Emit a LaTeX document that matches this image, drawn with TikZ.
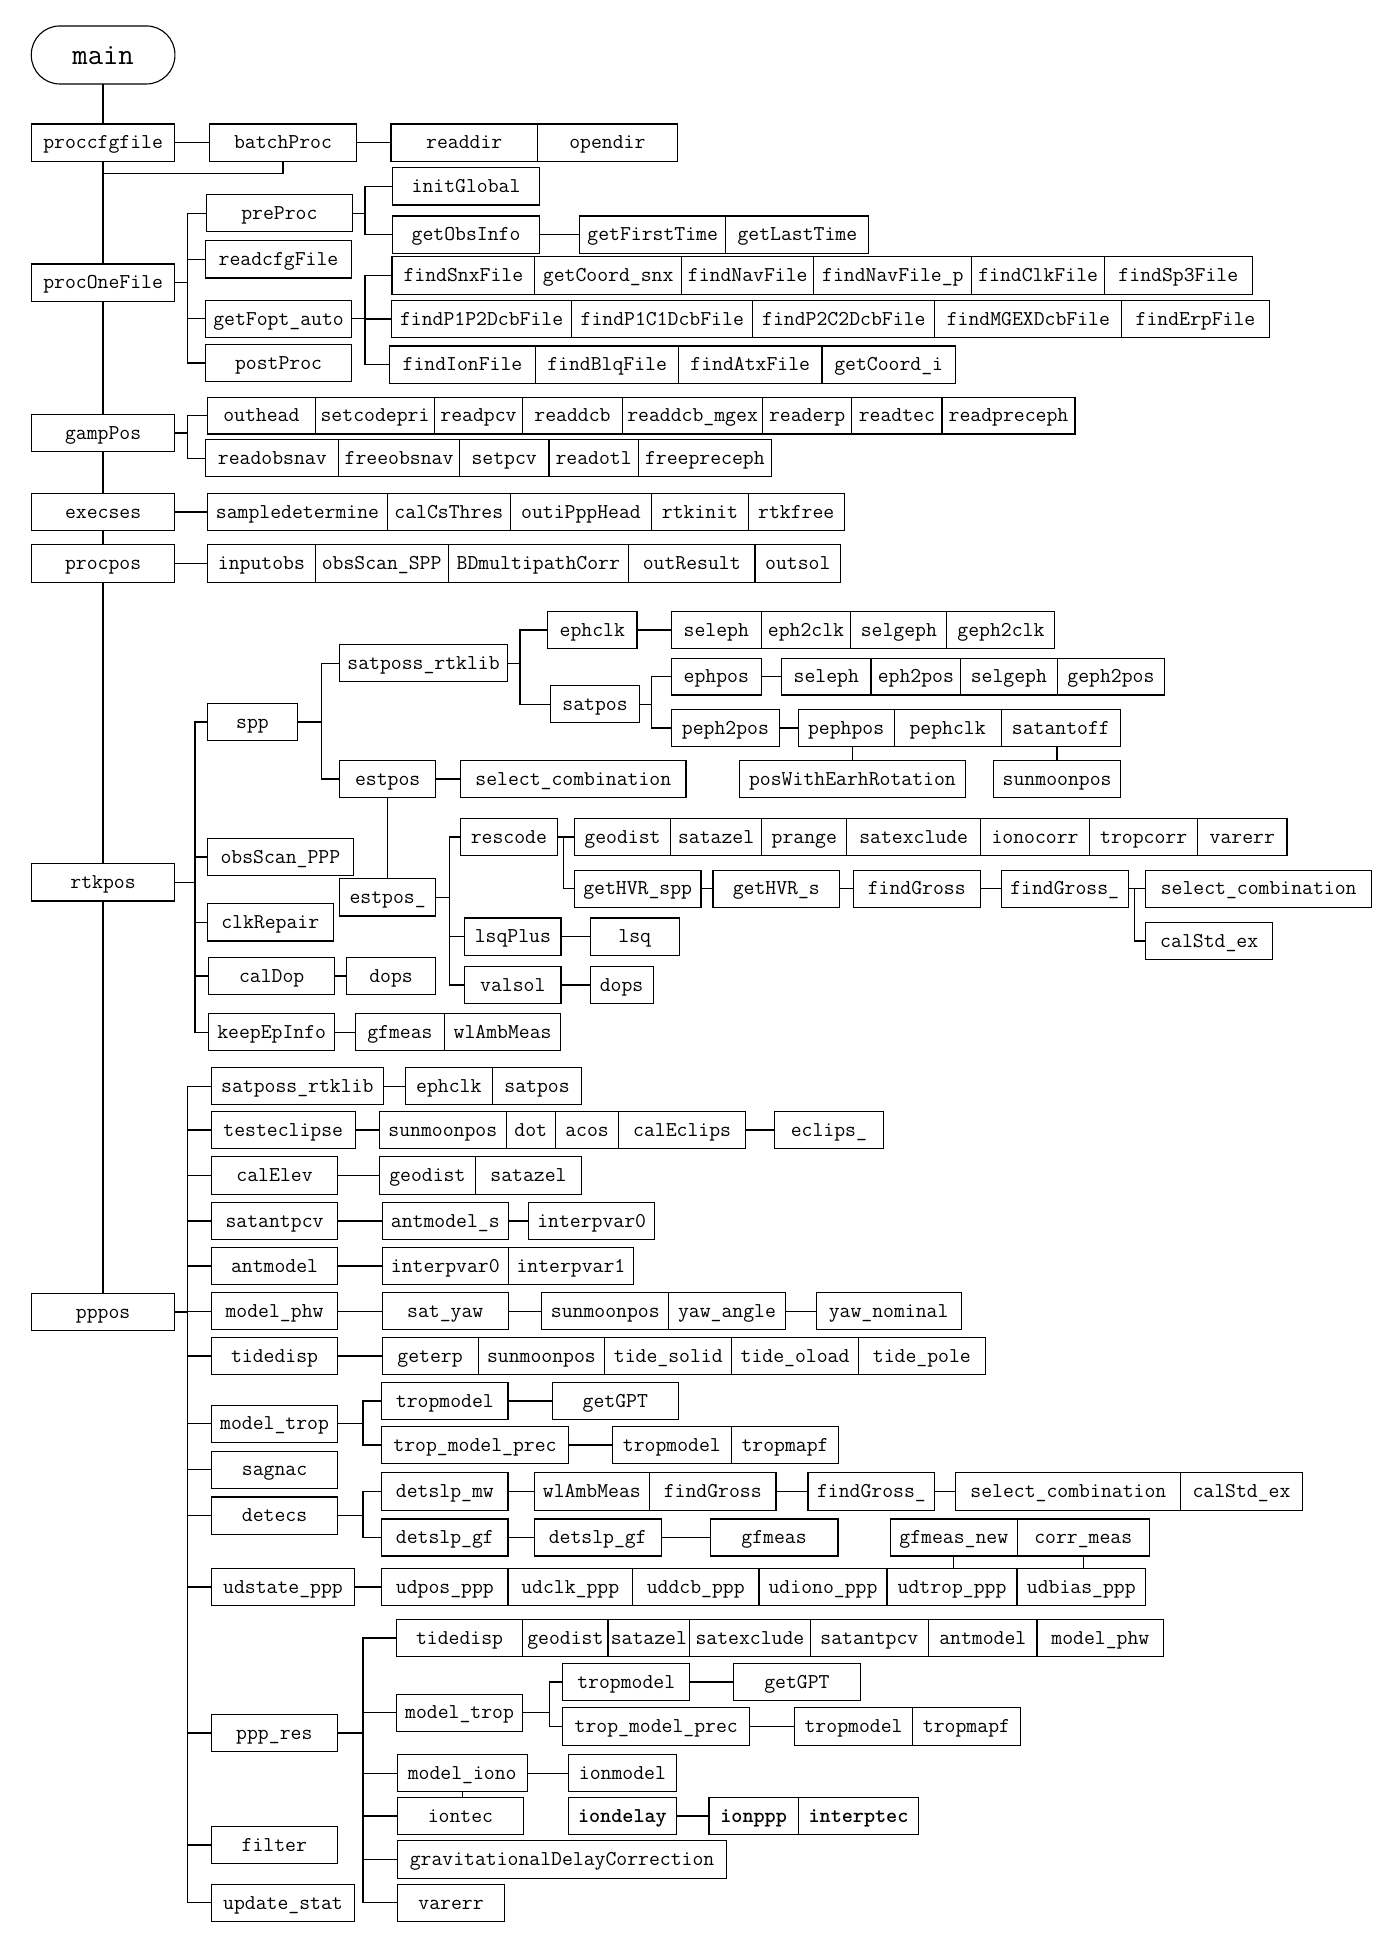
\documentclass[tikz,border=0pt]{standalone}
\usetikzlibrary{calc}
\newcommand\setrow[2]{\def\ya{#1}\def\yb{#2}}
\newcommand\bx[6]{\node[bx, minimum width={(#3)-(#2)}, minimum height={(#5)-(#4)}] (#1) at ({((#2)+(#3))/2},{((#4)+(#5))/2}) {#6};}
\newcommand\bxr[4]{\bx{#1}{#2}{#3}{\ya}{\yb}{#4}}
\newcommand\branch[3]{\coordinate (bk#1) at (#2,0); \foreach \c in {#3}{\draw (#1.east) -- (#1.east -| bk#1) |- (\c.west);}}
\newcommand\hlink[2]{\draw (#1.east) -- (#1.east -| #2.west);}
\newcommand\vlink[2]{\draw (#1.south) -- (#1.south |- #2.north);}
\newcommand\uplink[2]{\draw (#2.north) -- (#2.north |- #1.south);}
\tikzset{
  bx/.style={draw, rectangle, line width=0.9pt, inner sep=0pt, outer sep=0pt,
    font=\ttfamily\fontsize{17}{17}\selectfont, text height=13pt, text depth=3pt},
}
\begin{document}
\begin{tikzpicture}[x=1pt, y=-1pt, line width=1.1pt]
\fill[white] (0,0) rectangle (1109,1568);
\useasboundingbox (0,0) rectangle (1109,1568);

% ---------- main ----------
\node[bx, rounded corners=23pt, minimum width=115.6, minimum height=46.7,
  font=\ttfamily\fontsize{24}{24}\selectfont, text height=17pt, text depth=1pt] (main) at (83,44.25) {main};

% ---------- proccfgfile ----------
\setrow{99.8}{129.9}
\bxr{proccfgfile}{25.2}{140.8}{proccfgfile}
\bxr{batchProc}{168.9}{286.7}{batchProc}
\bxr{readdir}{314.7}{432.6}{readdir}
\bxr{opendir}{432.6}{545.1}{opendir}

% ---------- procOneFile ----------
\bx{procOneFile}{25.2}{140.8}{212.5}{242.5}{procOneFile}
\bx{preProc}{166.0}{283.8}{156.7}{186.5}{preProc}
\bx{readcfgFile}{165.3}{283.1}{193.7}{223.8}{readcfgFile}
\bx{getFopt}{165.3}{283.1}{241.7}{271.5}{getFopt\_auto}
\bx{postProc}{165.3}{283.1}{277.2}{307.2}{postProc}
\bx{initGlobal}{316.2}{434.0}{135.0}{165.0}{initGlobal}
\setrow{173.9}{203.9}
\bxr{getObsInfo}{316.2}{434.0}{getObsInfo}
\bxr{getFirstTime}{466.4}{584.3}{getFirstTime}
\bxr{getLastTime}{584.3}{699.3}{getLastTime}
\setrow{206.6}{236.9}
\bxr{findSnxFile}{315.5}{430.4}{findSnxFile}
\bxr{getCoordsnx}{430.4}{548.7}{getCoord\_snx}
\bxr{findNavFile}{548.7}{655.1}{findNavFile}
\bxr{findNavFilep}{655.1}{782.3}{findNavFile\_p}
\bxr{findClkFile}{782.3}{889.0}{findClkFile}
\bxr{findSpFile}{889.0}{1007.9}{findSp3File}
\setrow{241.7}{271.8}
\bxr{findPPa}{315.1}{460.3}{findP1P2DcbFile}
\bxr{findPPb}{460.3}{605.9}{findP1C1DcbFile}
\bxr{findPPc}{605.9}{752.5}{findP2C2DcbFile}
\bxr{findMGEX}{752.5}{903.0}{findMGEXDcbFile}
\bxr{findErpFile}{903.0}{1021.6}{findErpFile}
\setrow{278.5}{308.5}
\bxr{findIonFile}{313.3}{431.2}{findIonFile}
\bxr{findBlqFile}{431.2}{546.1}{findBlqFile}
\bxr{findAtxFile}{546.1}{661.6}{findAtxFile}
\bxr{getCoordi}{661.6}{769.0}{getCoord\_i}

% ---------- gampPos ----------
\bx{gampPos}{25.2}{140.8}{333.4}{363.5}{gampPos}
\setrow{319.8}{349.3}
\bxr{outhead}{167.1}{253.7}{outhead}
\bxr{setcodepri}{253.7}{350.0}{setcodepri}
\bxr{readpcv}{350.0}{420.4}{readpcv}
\bxr{readdcb}{420.4}{501.2}{readdcb}
\bxr{readdcbmgex}{501.2}{613.8}{readdcb\_mgex}
\bxr{readerp}{613.8}{685.6}{readerp}
\bxr{readtec}{685.6}{758.2}{readtec}
\bxr{readpreceph}{758.2}{865.3}{readpreceph}
\setrow{354.1}{383.6}
\bxr{readobsnav}{165.6}{272.7}{readobsnav}
\bxr{freeobsnav}{272.7}{369.7}{freeobsnav}
\bxr{setpcv}{369.7}{441.9}{setpcv}
\bxr{readotl}{441.9}{513.8}{readotl}
\bxr{freepreceph}{513.8}{621.0}{freepreceph}

% ---------- execses / procpos ----------
\setrow{397.0}{427.1}
\bxr{execses}{25.2}{140.8}{execses}
\bxr{sampledetermine}{167.1}{311.9}{sampledetermine}
\bxr{calCsThres}{311.9}{410.7}{calCsThres}
\bxr{outiPppHead}{410.7}{524.6}{outiPppHead}
\bxr{rtkinit}{524.6}{602.3}{rtkinit}
\bxr{rtkfree}{602.3}{679.5}{rtkfree}
\setrow{438.6}{468.7}
\bxr{procpos}{25.2}{140.8}{procpos}
\bxr{inputobs}{167.1}{253.7}{inputobs}
\bxr{obsScanSPP}{253.7}{360.7}{obsScan\_SPP}
\bxr{BDmp}{360.7}{505.9}{BDmultipathCorr}
\bxr{outResult}{505.9}{607.7}{outResult}
\bxr{outsol}{607.7}{676.7}{outsol}

% ---------- rtkpos ----------
\bx{rtkpos}{25.2}{140.8}{695.4}{725.2}{rtkpos}
\bx{spp}{167.1}{239.3}{566.1}{596.1}{spp}
\bx{obsScanPPP}{166.7}{284.6}{674.7}{704.8}{obsScan\_PPP}
\bx{clkRepair}{166.7}{268.4}{727.3}{757.4}{clkRepair}
\setrow{770.5}{800.6}
\bxr{calDop}{167.8}{269.5}{calDop}
\bxr{dopsa}{278.8}{350.7}{dops}
\setrow{815.8}{845.9}
\bxr{keepEpInfo}{167.8}{269.5}{keepEpInfo}
\bxr{gfmeasa}{286.0}{357.9}{gfmeas}
\bxr{wlAmba}{357.9}{451.3}{wlAmbMeas}
\bx{sattk}{273.4}{408.5}{519.1}{548.6}{satposs\_rtklib}
\setrow{612.2}{642.0}
\bxr{estpos}{273.4}{350.7}{estpos}
\bxr{selcomba}{370.8}{552.2}{select\_combination}
\bx{estposu}{273.4}{350.7}{707.2}{737.3}{estpos\_}
\setrow{658.6}{688.7}
\bxr{rescode}{370.8}{448.4}{rescode}
\bxr{geodista}{462.4}{539.7}{geodist}
\bxr{satazela}{539.7}{613.1}{satazel}
\bxr{prange}{613.1}{681.7}{prange}
\bxr{satexcludea}{681.7}{789.1}{satexclude}
\bxr{ionocorr}{789.1}{877.1}{ionocorr}
\bxr{tropcorr}{877.1}{964.1}{tropcorr}
\bxr{varerra}{964.1}{1035.9}{varerr}
\setrow{700.5}{730.3}
\bxr{getHVRspp}{462.4}{564.2}{getHVR\_spp}
\bxr{getHVRs}{573.9}{675.9}{getHVR\_s}
\bxr{findGrossa}{686.7}{789.1}{findGross}
\bxr{findGrossua}{806.0}{908.0}{findGross\_}
\bxr{selcombb}{922.1}{1104.2}{select\_combination}
\bx{calStdexa}{922.1}{1024.5}{742.4}{772.2}{calStd\_ex}
\setrow{738.9}{768.9}
\bxr{lsqPlus}{374.0}{451.6}{lsqPlus}
\bxr{lsq}{475.0}{546.8}{lsq}
\setrow{777.8}{807.8}
\bxr{valsol}{374.0}{451.6}{valsol}
\bxr{dopsb}{475.0}{525.7}{dops}
\setrow{492.0}{522.1}
\bxr{ephclka}{440.9}{512.7}{ephclk}
\bxr{selepha}{540.4}{612.7}{seleph}
\bxr{ephclk}{612.7}{684.9}{eph2clk}
\bxr{selgepha}{684.9}{762.2}{selgeph}
\bxr{gephclk}{762.2}{849.1}{geph2clk}
\bx{satposa}{443.0}{514.9}{552.1}{581.9}{satpos}
\setrow{529.8}{559.4}
\bxr{ephpos}{540.4}{612.7}{ephpos}
\bxr{selephb}{629.2}{701.1}{seleph}
\bxr{ephpos2}{701.1}{773.3}{eph2pos}
\bxr{selgephb}{773.3}{850.9}{selgeph}
\bxr{gephpos}{850.9}{937.5}{geph2pos}
\setrow{571.2}{601.0}
\bxr{pephpos2}{540.4}{627.4}{peph2pos}
\bxr{pephpos}{642.5}{719.7}{pephpos}
\bxr{pephclk}{719.7}{805.9}{pephclk}
\bxr{satantoff}{805.9}{901.9}{satantoff}
\setrow{612.2}{642.0}
\bxr{posWith}{595.4}{776.9}{posWithEarhRotation}
\bxr{sunmoona}{799.9}{901.9}{sunmoonpos}

% ---------- pppos ----------
\bx{pppos}{25.2}{140.8}{1040.9}{1071.0}{pppos}
\setrow{859.3}{889.3}
\bxr{sattkb}{170.0}{308.6}{satposs\_rtklib}
\bxr{ephclkb}{326.2}{396.3}{ephclk}
\bxr{satposb}{396.3}{468.2}{satpos}
\setrow{894.7}{924.7}
\bxr{testeclipse}{170.0}{286.0}{testeclipse}
\bxr{sunmoonb}{305.4}{407.5}{sunmoonpos}
\bxr{dot}{407.5}{447.0}{dot}
\bxr{acos}{447.0}{498.0}{acos}
\bxr{calEclips}{498.0}{600.1}{calEclips}
\bxr{eclipsu}{623.5}{710.8}{eclips\_}
\setrow{931.2}{961.2}
\bxr{calElev}{170.0}{272.0}{calElev}
\bxr{geodistb}{305.4}{382.6}{geodist}
\bxr{satazelb}{382.6}{468.2}{satazel}
\setrow{967.7}{997.7}
\bxr{satantpcv}{170.0}{272.0}{satantpcv}
\bxr{antmodels}{307.6}{409.2}{antmodel\_s}
\bxr{interpa}{425.4}{527.1}{interpvar0}
\setrow{1003.9}{1033.9}
\bxr{antmodel}{170.0}{272.0}{antmodel}
\bxr{interpb}{307.6}{409.2}{interpvar0}
\bxr{interpc}{409.2}{509.9}{interpvar1}
\setrow{1040.4}{1070.4}
\bxr{modelphw}{170.0}{272.0}{model\_phw}
\bxr{satyaw}{307.6}{409.2}{sat\_yaw}
\bxr{sunmoonc}{436.2}{538.2}{sunmoonpos}
\bxr{yawangle}{538.2}{632.1}{yaw\_angle}
\bxr{yawnominal}{656.9}{773.7}{yaw\_nominal}
\setrow{1076.5}{1106.3}
\bxr{tidedisp}{170.0}{272.0}{tidedisp}
\bxr{geterp}{307.6}{384.8}{geterp}
\bxr{sunmoond}{384.8}{486.9}{sunmoonpos}
\bxr{tidesolid}{486.9}{589.0}{tide\_solid}
\bxr{tideoload}{589.0}{691.0}{tide\_oload}
\bxr{tidepole}{691.0}{793.1}{tide\_pole}
\bx{modeltrop}{170.0}{272.0}{1131.0}{1160.8}{model\_trop}
\setrow{1112.7}{1142.5}
\bxr{tropmodela}{307.2}{408.9}{tropmodel}
\bxr{getGPTa}{444.5}{546.1}{getGPT}
\setrow{1148.2}{1178.2}
\bxr{tropmpa}{307.2}{457.4}{trop\_model\_prec}
\bxr{tropmodelb}{493.0}{588.6}{tropmodel}
\bxr{tropmapfa}{588.6}{675.2}{tropmapf}
\bx{sagnac}{170.0}{272.0}{1168.0}{1197.8}{sagnac}
\bx{detecs}{170.0}{272.0}{1205.0}{1234.8}{detecs}
\setrow{1185.5}{1215.5}
\bxr{detslpmw}{307.2}{408.9}{detslp\_mw}
\bxr{wlAmbb}{430.1}{522.8}{wlAmbMeas}
\bxr{findGrossb}{522.8}{624.6}{findGross}
\bxr{findGrossub}{650.4}{752.5}{findGross\_}
\bxr{selcombc}{769.4}{950.5}{select\_combination}
\bxr{calStdexb}{950.5}{1048.2}{calStd\_ex}
\setrow{1222.7}{1252.5}
\bxr{detslpgf}{307.2}{408.9}{detslp\_gf}
\bxr{detslpgfb}{430.1}{532.1}{detslp\_gf}
\bxr{gfmeasb}{571.7}{674.5}{gfmeas}
\bxr{gfmeasnew}{716.5}{818.9}{gfmeas\_new}
\bxr{corrmeas}{818.9}{924.9}{corr\_meas}
\setrow{1262.5}{1292.6}
\bxr{udstate}{170.0}{285.6}{udstate\_ppp}
\bxr{udpos}{307.2}{408.9}{udpos\_ppp}
\bxr{udclk}{408.9}{509.1}{udclk\_ppp}
\bxr{uddcb}{509.1}{610.9}{uddcb\_ppp}
\bxr{udiono}{610.9}{714.0}{udiono\_ppp}
\bxr{udtrop}{714.0}{818.6}{udtrop\_ppp}
\bxr{udbias}{818.6}{922.1}{udbias\_ppp}
\bx{pppres}{170.0}{271.6}{1380.0}{1410.0}{ppp\_res}
\setrow{1303.5}{1333.6}
\bxr{tidedispb}{319.1}{420.7}{tidedisp}
\bxr{geodistc}{420.7}{489.4}{geodist}
\bxr{satazelc}{489.4}{555.1}{satazel}
\bxr{satexcludeb}{555.1}{652.2}{satexclude}
\bxr{satantpcvb}{652.2}{747.4}{satantpcv}
\bxr{antmodelb}{747.4}{834.7}{antmodel}
\bxr{modelphwb}{834.7}{936.8}{model\_phw}
\bx{modeltropb}{319.1}{420.7}{1363.6}{1393.7}{model\_trop}
\setrow{1338.9}{1369.0}
\bxr{tropmodelc}{453.1}{555.1}{tropmodel}
\bxr{getGPTb}{590.4}{692.5}{getGPT}
\setrow{1374.6}{1404.7}
\bxr{tropmpb}{453.1}{603.4}{trop\_model\_prec}
\bxr{tropmodeld}{639.6}{734.5}{tropmodel}
\bxr{tropmapfb}{734.5}{821.4}{tropmapf}
\setrow{1412.5}{1442.2}
\bxr{modeliono}{319.8}{424.3}{model\_iono}
\bxr{ionmodel}{457.7}{544.3}{ionmodel}
\setrow{1446.8}{1476.9}
\bxr{iontec}{319.8}{421.5}{iontec}
\bxr{iondelay}{457.7}{544.3}{\bfseries iondelay}
\bxr{ionppp}{570.7}{642.5}{\bfseries ionppp}
\bxr{interptec}{642.5}{739.5}{\bfseries interptec}
\bx{gravDC}{319.8}{585.0}{1481.7}{1511.7}{gravitationalDelayCorrection}
\bx{varerrb}{319.8}{406.4}{1516.6}{1546.6}{varerr}
\bx{filter}{170.0}{271.6}{1470.1}{1500.1}{filter}
\bx{updatestat}{170.0}{285.6}{1516.6}{1546.6}{update\_stat}

% ---------- connectors ----------
\vlink{main}{proccfgfile}
\vlink{proccfgfile}{procOneFile}
\vlink{procOneFile}{gampPos}
\vlink{gampPos}{execses}
\vlink{execses}{procpos}
\vlink{procpos}{rtkpos}
\vlink{rtkpos}{pppos}
\hlink{proccfgfile}{batchProc}
\hlink{batchProc}{readdir}
\coordinate (jb) at (83,139.5);
\draw (batchProc.south) |- (jb);

\branch{procOneFile}{150.9}{preProc,readcfgFile,getFopt,postProc}
\branch{preProc}{293.9}{initGlobal,getObsInfo}
\hlink{getObsInfo}{getFirstTime}
\branch{getFopt}{293.9}{findSnxFile,findPPa,findIonFile}

\branch{gampPos}{150.9}{outhead,readobsnav}
\hlink{execses}{sampledetermine}
\hlink{procpos}{inputobs}

\branch{rtkpos}{157.0}{spp,obsScanPPP,clkRepair,calDop,keepEpInfo}
\branch{spp}{258.7}{sattk,estpos}
\hlink{estpos}{selcomba}
\vlink{estpos}{estposu}
\branch{estposu}{362.0}{rescode,lsqPlus,valsol}
\branch{rescode}{453.4}{geodista,getHVRspp}
\hlink{getHVRspp}{getHVRs}
\hlink{getHVRs}{findGrossa}
\hlink{findGrossa}{findGrossua}
\branch{findGrossua}{913.1}{selcombb,calStdexa}
\hlink{lsqPlus}{lsq}
\hlink{valsol}{dopsb}
\hlink{calDop}{dopsa}
\hlink{keepEpInfo}{gfmeasa}
\branch{sattk}{418.6}{ephclka,satposa}
\hlink{ephclka}{selepha}
\branch{satposa}{524.6}{ephpos,pephpos2}
\hlink{ephpos}{selephb}
\hlink{pephpos2}{pephpos}
\uplink{pephpos}{posWith}
\uplink{satantoff}{sunmoona}

\branch{pppos}{150.9}{sattkb,testeclipse,calElev,satantpcv,antmodel,modelphw,tidedisp,modeltrop,sagnac,detecs,udstate,pppres,filter,updatestat}
\hlink{sattkb}{ephclkb}
\hlink{testeclipse}{sunmoonb}
\hlink{calEclips}{eclipsu}
\hlink{calElev}{geodistb}
\hlink{satantpcv}{antmodels}
\hlink{antmodels}{interpa}
\hlink{antmodel}{interpb}
\hlink{modelphw}{satyaw}
\hlink{satyaw}{sunmoonc}
\hlink{yawangle}{yawnominal}
\hlink{tidedisp}{geterp}
\branch{modeltrop}{292.1}{tropmodela,tropmpa}
\hlink{tropmodela}{getGPTa}
\hlink{tropmpa}{tropmodelb}
\branch{detecs}{292.1}{detslpmw,detslpgf}
\hlink{detslpmw}{wlAmbb}
\hlink{findGrossb}{findGrossub}
\hlink{findGrossub}{selcombc}
\hlink{detslpgf}{detslpgfb}
\hlink{detslpgfb}{gfmeasb}
\vlink{gfmeasnew}{udtrop}
\vlink{corrmeas}{udbias}
\hlink{udstate}{udpos}
\branch{pppres}{292.1}{tidedispb,modeltropb,modeliono,iontec,gravDC,varerrb}
\branch{modeltropb}{442.3}{tropmodelc,tropmpb}
\hlink{tropmodelc}{getGPTb}
\hlink{tropmpb}{tropmodeld}
\hlink{modeliono}{ionmodel}
\hlink{iondelay}{ionppp}
\vlink{modeliono}{iontec}
\end{tikzpicture}
\end{document}
